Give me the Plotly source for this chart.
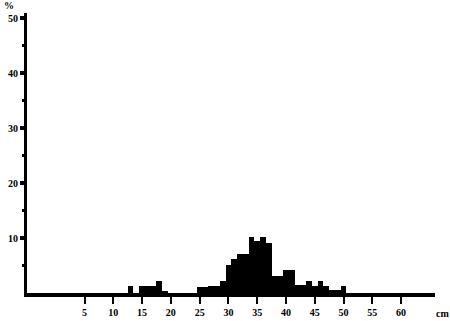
import plotly.graph_objects as go

# Length classes (cm) and percentage frequencies
length_cm = [13, 15, 16, 17, 18, 19,
             25, 26, 27, 28, 29, 30, 31, 32, 33, 34, 35, 36, 37, 38, 39,
             40, 41, 42, 43, 44, 45, 46, 47, 48, 49, 50]
percent = [1.2, 1.2, 1.2, 1.2, 2.2, 0.4,
           1.1, 1.1, 1.2, 1.2, 2.2, 5.1, 6.2, 7.1, 7.1, 10.2, 9.4, 10.2, 9.1, 3.1, 3.1,
           4.2, 4.2, 1.4, 1.4, 2.2, 1.3, 2.2, 1.3, 0.6, 0.6, 1.2]

x_ticks = [5, 10, 15, 20, 25, 30, 35, 40, 45, 50, 55, 60]
y_ticks = [10, 20, 30, 40, 50]

font_family = "Liberation Serif"

fig = go.Figure()
fig.add_trace(go.Bar(
    x=length_cm, y=percent, width=1.0,
    marker=dict(color="black", line=dict(width=0)),
    showlegend=False,
))

fig.update_layout(
    width=450, height=321,
    margin=dict(l=27, r=15, t=13, b=28, autoexpand=False),
    paper_bgcolor="white", plot_bgcolor="white",
    bargap=0,
    xaxis=dict(
        range=[-5.0, 65.9], showgrid=False, zeroline=False, automargin=False,
        showline=True, linecolor="black", linewidth=4,
        tickmode="array", tickvals=x_ticks, ticktext=[str(v) for v in x_ticks],
        ticks="outside", ticklen=7, tickwidth=2, tickcolor="black",
        tickfont=dict(family=font_family, size=10, color="black", weight="bold"),
    ),
    yaxis=dict(
        range=[0, 51], showgrid=False, zeroline=False, automargin=False,
        showline=True, linecolor="black", linewidth=3,
        tickmode="array", tickvals=y_ticks, ticktext=[str(v) for v in y_ticks],
        ticks="outside", ticklen=4, tickwidth=4, tickcolor="black",
        tickfont=dict(family=font_family, size=10, color="black", weight="bold"),
        minor=dict(tickvals=[5, 15, 25, 35, 45], ticks="outside", ticklen=2,
                   tickwidth=3, tickcolor="black"),
    ),
    annotations=[
        dict(text="%", xref="paper", yref="paper", x=-0.045, y=1.0,
             xanchor="center", yanchor="bottom", showarrow=False,
             font=dict(family=font_family, size=10, color="black", weight="bold")),
        dict(text="cm", xref="paper", yref="paper", x=0.998, y=-0.072,
             xanchor="left", yanchor="middle", showarrow=False,
             font=dict(family=font_family, size=10, color="black", weight="bold")),
    ],
)

fig.write_html("out.html")
